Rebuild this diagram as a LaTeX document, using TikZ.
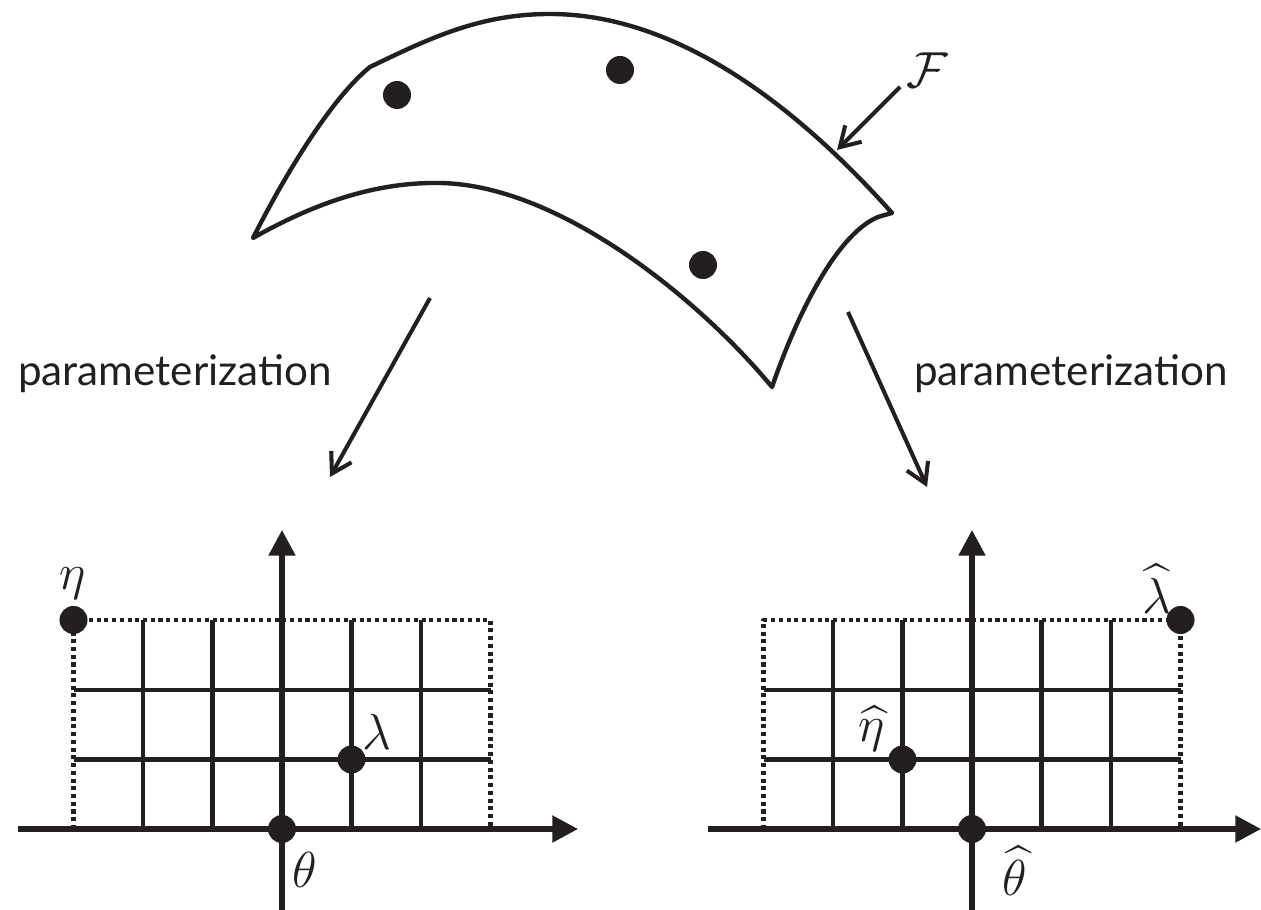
\documentclass[tikz,border=0pt]{standalone}
\usepackage{amsmath,amssymb}
\usepackage{fontspec}
\setmainfont{Lato}
\usetikzlibrary{arrows.meta, positioning, calc}
\definecolor{ink}{RGB}{35,31,32}

\begin{document}
\begin{tikzpicture}[x=0.01cm, y=-0.01cm, color=ink, line join=round,
  every node/.style={font=\fontsize{12}{14}\selectfont},
  sym/.style={font=\fontsize{13.5}{16}\selectfont, inner sep=1pt},
  surf/.style={line width=1.25pt},
  pt/.style={circle, fill=ink, inner sep=0pt, minimum size=0.28cm},
  axis/.style={line width=1.45pt, -{Triangle[length=7.3pt, width=7.4pt]}},
  gridline/.style={line width=1.2pt},
  border/.style={line width=1.25pt, dash pattern=on 1.15pt off 1.05pt},
  maps/.style={line width=1.15pt, -{Straight Barb[length=5.5pt, width=6.6pt]}}]
\useasboundingbox (0,0) rectangle (1261,910);

% the surface
\draw[surf] (253,238) .. controls (290,165) and (335,95) .. (370,67)
  .. controls (430,38) and (480,14) .. (550,14)
  .. controls (680,14) and (800,110) .. (892,213)
  -- (878,217) .. controls (835,235) and (795,320) .. (772,387)
  .. controls (700,300) and (560,185) .. (440,183)
  .. controls (380,182) and (320,200) .. (253,238) -- cycle;
\node[pt] (s1) at (397,95) {};
\node[pt] (s2) at (620,70) {};
\node[pt] (s3) at (703,265) {};
\node[sym] (F) at (927,70) {$\mathcal{F}$};
\coordinate (Ftail) at (900,87);
\coordinate (Ftip) at (837,150);
\draw[maps] (Ftail) -- (Ftip);

% the two maps
\coordinate (mapLa) at (430,298);
\coordinate (mapLb) at (330,477);
\coordinate (mapRa) at (848,312);
\coordinate (mapRb) at (927,487);
\draw[maps] (mapLa) -- (mapLb);
\draw[maps] (mapRa) -- (mapRb);
\node[anchor=base] (parL) at (175,386) {parameterization};
\node[anchor=base] (parR) at (1071,386) {parameterization};

% left grid
\begin{scope}[shift={(282,829)}]
\foreach \gx in {-139,-69.5,69.5,139} \draw[gridline] (\gx,0) -- (\gx,-209);
\foreach \gy in {-69.5,-139} \draw[gridline] (-208.5,\gy) -- (208.5,\gy);
\draw[border] (-208.5,0) -- (-208.5,-209) -- (208.5,-209) -- (208.5,0);
\draw[axis] (-264,0) -- (296,0);
\draw[axis] (0,81) -- (0,-299);
\node[pt] (eta) at (-208.5,-209) {};
\node[pt] (lambda) at (69.5,-69.5) {};
\node[pt] (theta) at (0,0) {};
\node[sym] (etalab) at (-209,-245) {$\eta$};
\node[sym] (lambdalab) at (95,-97) {$\lambda$};
\node[sym] (thetalab) at (23,41) {$\theta$};
\end{scope}

% right grid
\begin{scope}[shift={(972,829)}]
\foreach \gx in {-139,-69.5,69.5,139} \draw[gridline] (\gx,0) -- (\gx,-209);
\foreach \gy in {-69.5,-139} \draw[gridline] (-208.5,\gy) -- (208.5,\gy);
\draw[border] (-208.5,0) -- (-208.5,-209) -- (208.5,-209) -- (208.5,0);
\draw[axis] (-264,0) -- (289,0);
\draw[axis] (0,81) -- (0,-299);
\node[pt] (lambdahat) at (208.5,-209) {};
\node[pt] (etahat) at (-69.5,-69.5) {};
\node[pt] (thetahat) at (0,0) {};
\node[sym] (lambdahatlab) at (185,-240) {$\widehat{\lambda}$};
\node[sym] (etahatlab) at (-100,-100) {$\widehat{\eta}$};
\node[sym] (thetahatlab) at (43,42) {$\widehat{\theta}$};
\end{scope}
\end{tikzpicture}
\end{document}
